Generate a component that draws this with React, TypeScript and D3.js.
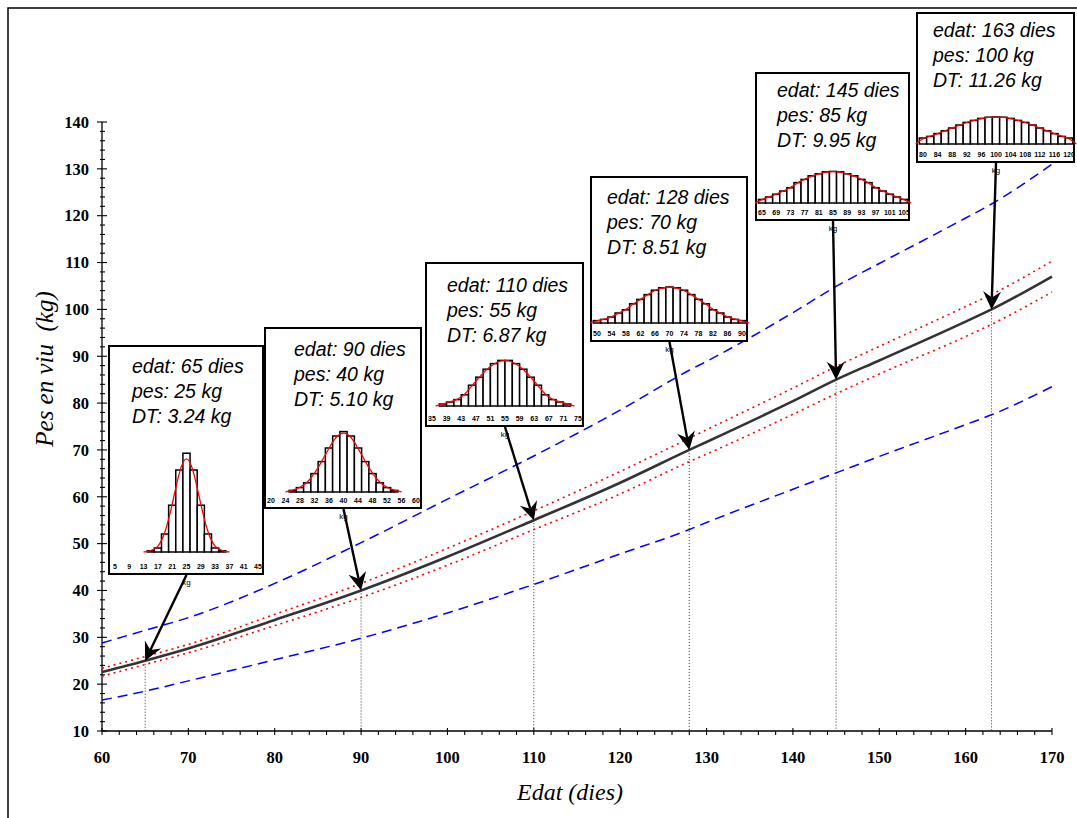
import React from "react";
import * as d3 from "d3";

// main curves (age in days -> kg)
const ages = [60, 65, 70, 80, 90, 100, 110, 120, 128, 130, 140, 145, 150, 160, 163, 170];
const meanWeight = [22.6, 25, 27.6, 33.7, 40, 47.2, 55, 63, 70, 71.7, 80.4, 85, 89.1, 97.4, 100, 107];
const upper2SD = [28.8, 31.5, 34.2, 41.5, 50.2, 59.5, 68.7, 78.5, 87, 88.9, 99.3, 104.9, 109.8, 119.5, 122.5, 131];
const lower2SD = [16.6, 18.5, 20.7, 25.2, 29.8, 35.2, 41.3, 47.8, 53, 54.5, 61.6, 65.1, 68.6, 75.4, 77.5, 83.5];
const upperCI = [23.4, 25.9, 28.5, 34.9, 41.5, 49, 57, 65.4, 72.5, 74.3, 83.2, 87.8, 92.1, 100.6, 103.2, 110.3];
const lowerCI = [21.7, 24.2, 26.7, 32.5, 38.5, 45.4, 53, 60.6, 67.5, 69.1, 77.6, 82, 86.2, 94.2, 96.8, 103.7];

const xTicks = [60, 70, 80, 90, 100, 110, 120, 130, 140, 150, 160, 170];
const yTicks = [10, 20, 30, 40, 50, 60, 70, 80, 90, 100, 110, 120, 130, 140];

// insets
const insetAges = [65, 90, 110, 128, 145, 163];
const insetMeans = [25, 40, 55, 70, 85, 100];
const insetSD = ["3.24", "5.10", "6.87", "8.51", "9.95", "11.26"];
const insetTickStart = [5, 20, 35, 50, 65, 80];
const insetBinStart = [15, 26, 38, 50, 65, 80];

// % of animals per 2 kg bin
const hist65 = [0.3, 1, 4.5, 11.7, 20.5, 24.7, 20.5, 11.7, 4.5, 1, 0.3];
const hist90 = [0.4, 1.1, 2.3, 4.6, 7.6, 11, 14, 15.1, 14, 11, 7.6, 4.6, 2.3, 1.1, 0.4];
const hist110 = [0.5, 1, 1.6, 2.8, 5.2, 7.2, 9.2, 10.6, 11.4, 11.4, 10.6, 9.2, 7.2, 5.2, 2.8, 1.6, 1, 0.5];
const hist128 = [0.6, 0.9, 1.5, 2.5, 3.3, 4.8, 5.9, 7.1, 8.2, 8.8, 9, 8.8, 8.2, 7.1, 5.9, 4.8, 3.3, 2.5, 1.5, 0.9, 0.6];
const hist145 = [0.9, 1.5, 2.2, 3, 3.8, 5.1, 5.9, 6.8, 7.3, 7.8, 7.9, 7.8, 7.3, 6.8, 5.9, 5.1, 3.8, 3, 2.2, 1.5, 0.9];
const hist163 = [1.5, 1.9, 2.6, 3.3, 4, 4.75, 5.4, 5.9, 6.4, 6.7, 6.75, 6.7, 6.4, 5.9, 5.4, 4.75, 4, 3.3, 2.6, 1.9, 1.5];
const insetHist = [hist65, hist90, hist110, hist128, hist145, hist163];

// inset boxes on the page (left, top, right, bottom, text x offset, first baseline offset, histogram base offset)
const boxes = [
  { l: 109, t: 346, r: 263, b: 574, tx: 23, ty: 27, hb: 22 },
  { l: 265, t: 328, r: 421, b: 508, tx: 29, ty: 28, hb: 16 },
  { l: 426, t: 263, r: 583, b: 426, tx: 21, ty: 29, hb: 20 },
  { l: 591, t: 177, r: 747, b: 341, tx: 16, ty: 27, hb: 18 },
  { l: 756, t: 73, r: 909, b: 220, tx: 21, ty: 24, hb: 17 },
  { l: 917, t: 13, r: 1074, b: 162, tx: 16, ty: 24, hb: 18 },
];

const W = 1077;
const H = 818;
const serif = "'Liberation Serif', 'Times New Roman', serif";
const sans = "'Liberation Sans', Arial, sans-serif";

const x = d3.scaleLinear().domain([60, 170]).range([102, 1052]);
const y = d3.scaleLinear().domain([10, 140]).range([731, 122]);

const mkLine = (vals: number[]) =>
  d3
    .line<number>()
    .x((_, i) => x(ages[i]))
    .y((d) => y(d))
    .curve(d3.curveMonotoneX)(vals) || "";

const insetX = (i: number) => {
  const b = boxes[i];
  const t0 = insetTickStart[i];
  return d3.scaleLinear().domain([t0, t0 + 40]).range([b.l + 6, b.r - 5]);
};

const Arrow = ({ x1, y1, x2, y2 }: { x1: number; y1: number; x2: number; y2: number }) => {
  const ang = Math.atan2(y2 - y1, x2 - x1);
  const len = Math.hypot(x2 - x1, y2 - y1);
  const L = 18, Wd = 9, N = 6;
  return (
    <g transform={`translate(${x1},${y1}) rotate(${(ang * 180) / Math.PI})`}>
      <line x1={0} y1={0} x2={len - L + N} y2={0} stroke="#000" strokeWidth={2.4} />
      <path d={`M${len},0 L${len - L},${-Wd} L${len - L + N},0 L${len - L},${Wd} Z`} fill="#000" />
    </g>
  );
};

const Inset = ({ i }: { i: number }) => {
  const b = boxes[i];
  const t0 = insetTickStart[i];
  const hx = insetX(i);
  const base = b.b - b.hb;
  const hy = d3.scaleLinear().domain([0, 25]).range([base, base - 100]);
  const bins = insetHist[i].map((v, k) => ({ c: insetBinStart[i] + 2 * k, v }));
  const ticks = d3.range(t0, t0 + 41, 4);
  const curvePts = [
    { c: bins[0].c - 2, v: 0 },
    ...bins,
    { c: bins[bins.length - 1].c + 2, v: 0 },
  ];
  const fit =
    d3
      .line<{ c: number; v: number }>()
      .x((d) => hx(d.c))
      .y((d) => hy(d.v))
      .curve(d3.curveBasis)(curvePts) || "";
  const lines = [`edat: ${insetAges[i]} dies`, `pes: ${insetMeans[i]} kg`, `DT: ${insetSD[i]} kg`];
  return (
    <g>
      <rect x={b.l} y={b.t} width={b.r - b.l} height={b.b - b.t} fill="#fff" stroke="#000" strokeWidth={2} />
      <g fontFamily={sans} fontStyle="italic" fontSize={19.5} fill="#000">
        {lines.map((s, k) => (
          <text key={k} x={b.l + b.tx} y={b.t + b.ty + k * 25}>
            {s}
          </text>
        ))}
      </g>
      {bins.map((d, k) => (
        <rect
          key={k}
          x={hx(d.c - 1)}
          y={hy(d.v)}
          width={hx(d.c + 1) - hx(d.c - 1)}
          height={base - hy(d.v)}
          fill="#fff"
          stroke="#000"
          strokeWidth={1.5}
        />
      ))}
      <path d={fit} fill="none" stroke="#ff0000" strokeWidth={1.3} />
      <g fontFamily={sans} fontSize={7} fontWeight="bold" textAnchor="middle" fill="#000">
        {ticks.map((t) => (
          <text key={t} x={hx(t)} y={b.b - 5}>
            {t}
          </text>
        ))}
      </g>
      <text x={hx(insetMeans[i])} y={b.b + 11} fontFamily={sans} fontSize={8} textAnchor="middle">
        kg
      </text>
    </g>
  );
};

const App = () => {
  const minorX = d3.range(60, 171, 2);
  const minorY = d3.range(10, 141, 2);
  return (
    <div style={{ position: "absolute", left: 0, top: 0 }}>
      <svg width={W} height={H} style={{ display: "block", background: "#fff" }}>
        <rect x={8} y={8} width={W + 20} height={H + 20} fill="none" stroke="#000" strokeWidth={1.5} />

        {/* axes */}
        <line x1={102} y1={y(10)} x2={102} y2={y(140)} stroke="#000" strokeWidth={1.3} />
        <line x1={x(60)} y1={731} x2={x(170)} y2={731} stroke="#000" strokeWidth={1.3} />
        {minorY.map((v) => (
          <line key={v} x1={v % 10 ? 100 : 97} x2={v % 10 ? 105 : 107} y1={y(v)} y2={y(v)} stroke="#000" strokeWidth={1.1} />
        ))}
        {minorX.map((v) => (
          <line key={v} x1={x(v)} x2={x(v)} y1={v % 10 ? 731 : 728} y2={735} stroke="#000" strokeWidth={1.1} />
        ))}
        <g fontFamily={serif} fontWeight="bold" fontSize={16.5} fill="#000">
          {yTicks.map((v) => (
            <text key={v} x={89} y={y(v)} dy="0.35em" textAnchor="end">
              {v}
            </text>
          ))}
          {xTicks.map((v) => (
            <text key={v} x={x(v)} y={763} textAnchor="middle">
              {v}
            </text>
          ))}
        </g>
        <text x={570} y={800} fontFamily={serif} fontStyle="italic" fontSize={24} textAnchor="middle">
          Edat (dies)
        </text>
        <text
          transform="translate(53,369) rotate(-90)"
          fontFamily={serif}
          fontStyle="italic"
          fontSize={25}
          textAnchor="middle"
          xmlSpace="preserve"
        >
          {"Pes en viu  (kg)"}
        </text>

        {/* drop lines */}
        {insetAges.map((a, i) => (
          <line key={a} x1={x(a)} x2={x(a)} y1={y(insetMeans[i])} y2={731} stroke="#333" strokeWidth={1} strokeDasharray="1,2" />
        ))}

        {/* curves */}
        <path d={mkLine(upper2SD)} fill="none" stroke="#0000ff" strokeWidth={1.5} strokeDasharray="10,6" />
        <path d={mkLine(lower2SD)} fill="none" stroke="#0000ff" strokeWidth={1.5} strokeDasharray="10,6" />
        <path d={mkLine(upperCI)} fill="none" stroke="#ff0000" strokeWidth={1.6} strokeDasharray="2,4" />
        <path d={mkLine(lowerCI)} fill="none" stroke="#ff0000" strokeWidth={1.6} strokeDasharray="2,4" />
        <path d={mkLine(meanWeight)} fill="none" stroke="#333" strokeWidth={2.6} />

        {insetAges.map((a, i) => (
          <Inset key={a} i={i} />
        ))}
        {insetAges.map((a, i) => (
          <Arrow key={a} x1={insetX(i)(insetMeans[i])} y1={boxes[i].b + 1} x2={x(a)} y2={y(insetMeans[i])} />
        ))}
      </svg>
    </div>
  );
};

export default App;
